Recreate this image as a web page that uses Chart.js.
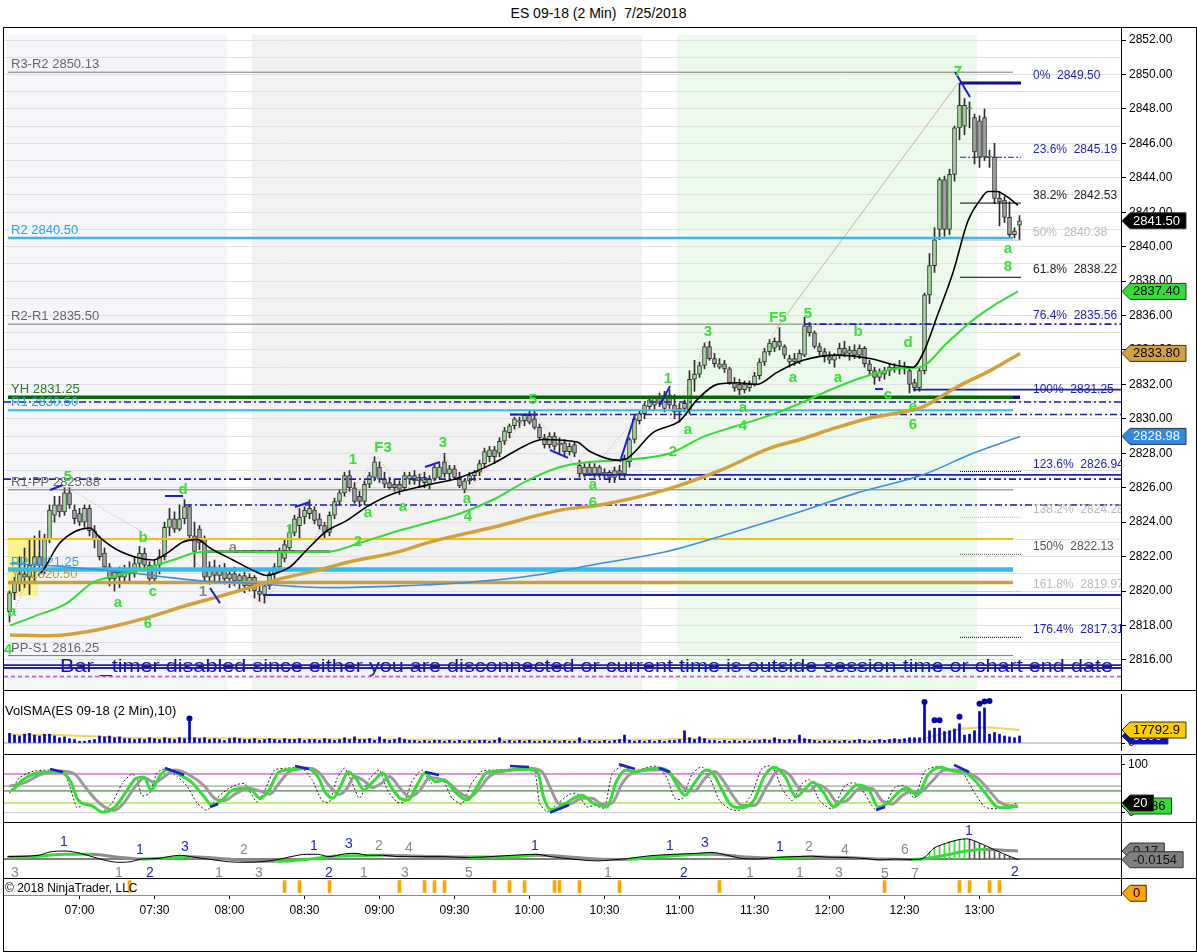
<!DOCTYPE html>
<html>
<head>
<meta charset="utf-8">
<title>ES 09-18 (2 Min) 7/25/2018</title>
<script src="https://cdn.jsdelivr.net/npm/chart.js@4.4.1/dist/chart.umd.min.js"></script>
<style>
  body { margin: 0; background: #fff; }
  #wrap { position: relative; width: 1197px; height: 952px; overflow: hidden; background: #fff;
          font-family: "Liberation Sans", Arial, sans-serif; }
  #title { position: absolute; left: 0; top: 5px; width: 1197px; text-align: center; font-size: 14px;
           white-space: pre; color: #000; }
  #wrap canvas { position: absolute; left: 0; }
  #frame { position: absolute; left: 3px; top: 27px; width: 1194px; height: 925px; border: 1px solid #000;
           box-sizing: border-box; pointer-events: none; }
</style>
</head>
<body>
<div id="wrap">
  <div id="title">ES 09-18 (2 Min)  7/25/2018</div>
  <canvas id="price" width="1197" height="663" style="top:27px"></canvas>
  <canvas id="vol" width="1197" height="64" style="top:690px"></canvas>
  <canvas id="stoch" width="1197" height="68" style="top:754px"></canvas>
  <canvas id="macd" width="1197" height="56" style="top:822px"></canvas>
  <canvas id="marks" width="1197" height="74" style="top:878px"></canvas>
  <div id="frame"></div>
</div>
<script>
// ---- data: 2 min bars from 06:32, bar number k = 1 + index (06:30 + 2k min) ----
const opens = [
  2818.8,2819.9,2820.5,2821.0,2820.8,2821.5,2822.0,2821.2,2823.0,2824.4,
  2825.0,2824.6,2825.7,2824.7,2824.5,2824.0,2824.8,2823.5,2823.0,2822.2,
  2821.4,2820.7,2821.1,2820.8,2821.2,2821.0,2821.6,2822.2,2821.5,2820.7,
  2821.5,2822.0,2823.7,2824.2,2823.6,2824.2,2824.9,2823.2,2823.6,2823.0,
  2820.8,2821.4,2820.9,2821.3,2820.7,2821.0,2820.6,2820.9,2820.3,2820.8,
  2820.0,2819.8,2820.3,2821.0,2821.4,2821.9,2822.5,2823.4,2823.8,2824.3,
  2824.5,2824.7,2824.2,2823.8,2823.4,2824.4,2825.2,2825.7,2826.7,2826.0,
  2825.5,2825.2,2826.2,2826.6,2827.2,2826.5,2826.3,2826.2,2826.2,2826.0,
  2826.5,2826.7,2826.4,2826.6,2826.2,2826.5,2826.6,2827.5,2826.8,2827.1,
  2826.6,2825.9,2826.4,2826.7,2826.9,2827.4,2827.8,2828.2,2828.0,2828.7,
  2829.2,2829.6,2829.8,2829.9,2830.2,2830.0,2829.5,2828.9,2828.5,2829.0,
  2828.5,2828.6,2828.1,2828.5,2827.3,2826.8,2827.2,2826.8,2827.2,2826.8,
  2826.9,2826.6,2827.0,2826.8,2827.5,2828.8,2829.9,2830.3,2830.7,2830.8,
  2831.2,2830.6,2831.4,2830.8,2830.4,2830.6,2830.5,2832.3,2832.6,2833.1,
  2834.2,2833.5,2833.0,2833.2,2832.9,2832.1,2832.0,2831.7,2831.8,2832.0,
  2832.5,2833.3,2833.9,2834.1,2834.5,2834.2,2833.3,2833.5,2833.3,2833.7,
  2835.4,2835.0,2834.2,2833.9,2833.6,2833.4,2833.7,2834.1,2833.8,2834.0,
  2833.7,2834.1,2833.2,2832.8,2832.4,2832.6,2832.8,2833.0,2832.9,2833.0,
  2832.8,2832.1,2831.8,2832.8,2837.2,2838.9,2841.0,2843.9,2841.0,2844.2,
  2846.9,2847.0,2848.0,2847.5,2847.3,2847.5,2845.2,2845.2,2842.8,2842.7,
  2841.7,2840.7,2841.25
];
const highs = [
  2820.0,2820.8,2822.0,2822.5,2823.0,2823.2,2823.5,2823.3,2825.0,2825.5,
  2825.5,2826.0,2826.0,2825.0,2824.8,2825.0,2825.0,2823.8,2823.2,2822.5,
  2821.6,2821.3,2821.4,2821.5,2821.7,2822.0,2822.6,2822.5,2821.7,2821.8,
  2822.4,2824.0,2824.8,2824.6,2825.0,2825.3,2825.0,2824.0,2823.8,2823.2,
  2821.7,2821.8,2821.5,2821.6,2821.3,2821.4,2821.0,2821.1,2821.0,2820.9,
  2820.3,2820.5,2821.2,2821.6,2822.5,2823.0,2823.8,2824.4,2824.8,2824.9,
  2825.3,2824.9,2824.5,2824.0,2824.6,2825.4,2825.9,2826.9,2827.0,2826.3,
  2825.8,2826.4,2826.9,2827.8,2827.5,2826.9,2826.6,2826.5,2826.4,2826.9,
  2826.9,2827.0,2826.8,2826.9,2826.7,2827.3,2827.4,2828.0,2827.3,2827.3,
  2826.9,2826.5,2826.9,2827.0,2827.6,2828.3,2828.4,2828.4,2828.9,2829.5,
  2829.7,2830.1,2830.1,2830.3,2830.5,2830.5,2829.7,2829.1,2829.2,2829.2,
  2828.9,2828.8,2828.6,2828.7,2827.6,2827.4,2827.4,2827.4,2827.3,2827.1,
  2827.0,2827.2,2827.3,2827.9,2828.9,2830.1,2830.5,2830.9,2831.3,2831.3,
  2831.5,2831.6,2831.7,2831.4,2830.9,2831.1,2832.8,2833.4,2833.3,2834.4,
  2834.5,2833.8,2833.5,2833.4,2833.0,2832.4,2832.3,2832.2,2832.2,2832.7,
  2833.5,2834.1,2834.6,2834.7,2835.3,2834.3,2833.7,2833.8,2834.0,2835.9,
  2835.6,2835.1,2834.4,2834.1,2833.9,2833.8,2834.4,2834.5,2834.2,2834.3,
  2834.3,2834.2,2833.4,2833.0,2832.9,2833.0,2833.2,2833.2,2833.4,2833.3,
  2833.0,2832.3,2833.0,2837.3,2839.6,2841.1,2844.0,2844.1,2844.5,2847.0,
  2849.5,2848.6,2848.4,2847.7,2847.6,2848.0,2845.6,2846.0,2843.2,2842.9,
  2842.6,2841.1,2841.8
];
const lows = [
  2818.2,2819.5,2820.0,2820.2,2819.8,2820.5,2821.2,2821.0,2822.8,2824.0,
  2824.3,2824.4,2824.8,2823.9,2823.8,2823.7,2823.2,2822.5,2821.8,2821.2,
  2820.3,2820.0,2820.2,2820.5,2820.6,2820.8,2821.3,2821.2,2820.4,2820.5,
  2821.0,2821.8,2823.2,2823.4,2823.5,2823.9,2823.0,2821.2,2822.4,2820.5,
  2820.4,2820.6,2820.5,2820.4,2820.2,2820.3,2820.1,2819.9,2820.0,2819.6,
  2819.4,2819.3,2820.1,2820.6,2821.2,2821.7,2822.3,2823.2,2823.0,2823.9,
  2824.2,2823.9,2823.6,2823.1,2823.2,2824.2,2825.0,2825.5,2825.8,2825.1,
  2824.9,2825.0,2826.0,2826.4,2826.3,2826.0,2825.9,2825.8,2825.6,2825.9,
  2826.2,2826.2,2826.1,2826.0,2825.9,2826.4,2826.5,2826.6,2826.4,2826.5,
  2826.0,2825.7,2826.2,2826.4,2826.7,2827.2,2827.5,2827.4,2827.8,2828.5,
  2828.9,2829.4,2829.5,2829.6,2829.7,2829.4,2828.8,2828.3,2828.3,2828.2,
  2828.0,2827.8,2827.9,2827.8,2826.6,2826.6,2826.7,2826.6,2826.6,2826.5,
  2826.3,2826.3,2826.5,2826.6,2827.2,2828.6,2829.7,2830.0,2830.5,2830.5,
  2830.7,2830.4,2830.6,2830.0,2829.8,2830.4,2830.3,2831.6,2832.4,2832.9,
  2833.4,2833.0,2832.9,2832.7,2832.0,2831.6,2831.4,2831.5,2831.6,2831.9,
  2832.3,2833.1,2833.7,2833.9,2834.0,2833.5,2833.0,2833.1,2833.2,2833.6,
  2834.8,2834.1,2833.7,2833.3,2833.2,2833.0,2833.5,2833.6,2833.4,2833.5,
  2833.5,2833.0,2832.6,2832.0,2832.2,2832.3,2832.5,2832.7,2832.6,2832.6,
  2831.5,2831.6,2831.6,2832.6,2836.7,2838.5,2840.4,2840.6,2840.7,2843.8,
  2846.2,2846.5,2846.9,2844.8,2844.6,2845.0,2844.6,2842.5,2841.2,2841.4,
  2840.5,2840.5,2840.4
];
const closes = [
  2819.9,2820.5,2821.0,2820.8,2821.5,2822.0,2821.5,2823.0,2824.7,2825.0,
  2824.6,2825.7,2825.0,2824.2,2824.0,2824.8,2823.5,2823.0,2822.0,2821.4,
  2820.7,2821.1,2820.8,2821.2,2821.0,2821.6,2822.2,2821.5,2820.7,2821.5,
  2822.0,2823.7,2824.2,2823.6,2824.2,2824.9,2823.2,2822.3,2822.8,2820.8,
  2821.4,2820.9,2821.3,2820.7,2821.0,2820.6,2820.9,2820.3,2820.8,2820.0,
  2819.8,2820.3,2821.0,2821.4,2822.3,2822.7,2823.4,2824.2,2824.3,2824.7,
  2824.8,2824.1,2823.8,2823.4,2824.4,2825.2,2825.7,2826.7,2826.0,2825.2,
  2825.2,2826.2,2826.7,2827.5,2826.5,2826.2,2826.0,2826.0,2825.9,2826.7,
  2826.7,2826.4,2826.6,2826.3,2826.5,2827.2,2827.2,2826.8,2827.1,2826.6,
  2826.1,2826.4,2826.7,2826.9,2827.4,2828.1,2828.2,2827.8,2828.7,2829.3,
  2829.6,2830.0,2829.9,2830.2,2829.8,2829.5,2828.9,2828.5,2829.0,2828.4,
  2828.6,2828.1,2828.4,2828.0,2826.8,2827.2,2826.8,2827.2,2826.8,2826.9,
  2826.6,2827.0,2826.8,2827.7,2828.8,2830.0,2830.3,2830.8,2831.1,2831.2,
  2830.9,2831.4,2830.8,2830.4,2830.6,2830.9,2832.3,2832.6,2833.1,2834.2,
  2833.5,2833.2,2833.2,2832.9,2832.1,2831.8,2831.7,2832.0,2832.0,2832.5,
  2833.3,2833.9,2834.4,2834.5,2834.2,2833.7,2833.5,2833.3,2833.8,2835.4,
  2835.0,2834.2,2833.9,2833.6,2833.4,2833.7,2834.1,2833.8,2834.0,2833.7,
  2834.1,2833.2,2832.8,2832.4,2832.7,2832.8,2833.0,2832.9,2833.0,2832.9,
  2832.0,2831.8,2832.8,2837.2,2838.9,2840.4,2843.9,2841.0,2844.2,2846.9,
  2848.2,2848.2,2848.0,2845.5,2845.2,2845.2,2845.2,2842.8,2842.6,2841.7,
  2840.7,2840.9,2841.5
];
const volumes = [
  13200,10800,9600,12000,13200,10800,9600,12000,12000,9600,7200,8400,6000,4800,
  2400,2400,3600,4800,
  9600,8400,9600,7200,8400,6000,6000,4800,6000,4800,7200,6000,4800,7200,6000,4800,7200,6000,
  31200,
  7200,6000,7200,4800,6000,4800,3600,6000,7200,6000,4800,4800,6000,3600,4800,6000,4800,3600,6000,4800,4800,6000,3600,4800,
  4800,3600,6000,4800,3600,4800,7200,4800,8400,4800,4800,6000,3600,8400,4800,3600,4800,7200,4800,3600,
  3600,2400,3600,2400,3600,3600,2400,3600,2400,3600,2400,3600,2400,3600,3600,2400,3600,
  7200,
  2400,3600,2400,3600,2400,3600,2400,2400,3600,2400,3600,2400,3600,2400,2400,
  7200,
  2400,3600,2400,2400,3600,2400,3600,4800,
  10800,
  3600,2400,3600,2400,3600,2400,3600,2400,3600,3600,4800,
  16800,
  7200,4800,8400,6000,3600,
  3600,2400,3600,2400,3600,2400,3600,2400,3600,3600,4800,3600,
  7200,
  4800,3600,4800,3600,
  10800,
  6000,4800,3600,2400,3600,2400,3600,2400,3600,2400,3600,4800,3600,2400,3600,4800,3600,4800,6000,4800,6000,7200,7200,
  7200,
  52800,
  16800,20400,20400,15600,16800,19200,26400,10800,12000,16800,43200,48000,12000,14400,12000,9600,8400,7200,9600
];

// moving averages as [bar, value]
const blackMA = [[6.7,2820.9],[7.7,2821.2],[11.1,2822.8],[17.1,2823.66],[19.1,2823.1],[22.5,2822.4],[27.1,2821.9],
  [29.7,2821.8],[32.5,2822.2],[35.7,2822.85],[38.5,2823.0],[41.1,2822.5],[45.7,2821.8],[49.7,2821.2],[52.5,2820.9],
  [54.5,2821.05],[57.1,2821.4],[60.5,2822.4],[64.5,2823.5],[68.5,2824.1],[72.5,2824.9],[77.7,2825.65],[84.5,2826.15],
  [91.1,2826.6],[97.7,2827.4],[104.5,2828.5],[107.7,2828.8],[114.5,2828.65],[117.1,2828.1],[122.5,2827.6],[124.5,2827.7],
  [129.7,2829.2],[135.1,2829.9],[138.5,2831.1],[142.5,2832.0],[146.5,2832.1],[150.5,2832.0],[154.5,2832.7],[159.7,2833.4],
  [166.5,2833.7],[173.1,2833.5],[178.5,2833.1],[181.7,2833.0],[183.7,2833.8],[186.7,2836.1],[189.7,2838.5],[192.7,2841.5],
  [195.1,2842.7],[196.7,2843.2],[198.5,2843.2],[200.5,2842.9],[202.7,2842.4]];
const greenMA = [[1.1,2818.0],[5.7,2818.5],[12.5,2819.3],[17.7,2820.5],[22.5,2820.9],[29.1,2821.4],[33.7,2821.8],
  [37.7,2822.2],[40.5,2822.3],[45.7,2822.3],[52.5,2822.27],[65.1,2822.3],[71.1,2822.8],[77.7,2823.4],[84.5,2823.95],
  [91.1,2824.5],[97.7,2825.3],[104.5,2826.4],[111.1,2827.2],[117.1,2827.5],[123.1,2827.6],[133.1,2828.0],[139.7,2828.95],
  [146.5,2829.6],[153.1,2830.2],[159.7,2830.97],[166.5,2831.85],[173.1,2832.55],[179.7,2832.95],[183.1,2833.0],
  [188.5,2834.4],[193.1,2835.6],[198.5,2836.7],[202.7,2837.4]];
const goldMA = [[1.1,2817.45],[9.1,2817.4],[15.7,2817.6],[22.5,2818.0],[29.1,2818.5],[35.7,2819.1],[42.5,2819.65],
  [49.1,2820.2],[55.7,2820.75],[62.5,2821.2],[69.1,2821.7],[79.1,2822.3],[84.5,2822.8],[97.7,2823.7],[111.1,2824.7],
  [119.1,2825.0],[132.5,2825.9],[143.1,2827.0],[153.1,2828.3],[159.1,2828.8],[166.5,2829.5],[173.1,2830.05],
  [179.7,2830.4],[183.7,2830.7],[190.5,2831.85],[197.1,2832.8],[203.1,2833.8]];
const blueMA = [[1.1,2821.6],[12.5,2821.4],[25.7,2821.05],[32.5,2820.8],[39.1,2820.6],[49.1,2820.45],[59.1,2820.25],
  [65.7,2820.2],[79.1,2820.3],[92.5,2820.5],[105.7,2820.9],[119.1,2821.6],[132.5,2822.3],[145.7,2823.4],[159.1,2824.6],
  [170.5,2825.7],[183.7,2826.75],[193.7,2828.0],[203.1,2828.98]];

// pivot levels
const pivotNames  = ['R3-R2', 'R2', 'R2-R1', 'YH', 'R1', 'R1-PP', 'PP', 'YL', 'PP-S1'];
const pivotValues = [2850.13, 2840.50, 2835.50, 2831.25, 2830.50, 2825.88, 2821.25, 2820.50, 2816.25];
const openLevel = 2823.02;
const dashLevels = [2830.98, 2830.25, 2826.50, 2825.00, 2835.50];
const dashFrom   = [-0.1, 101.1, -0.1, 36.1, 160.0];
const solidLevels = [2831.70, 2826.75, 2819.77, 2815.70, 2815.53];
const solidFrom   = [181.7, 115.7, 51.7, -0.1, -0.1];
const purpleLevel = 2815.03;
// fibonacci retracement of the 2831.25 -> 2849.50 leg
const fibNames  = ['0%', '23.6%', '38.2%', '50%', '61.8%', '76.4%', '100%', '123.6%', '138.2%', '150%', '161.8%', '176.4%'];
const fibValues = [2849.50, 2845.19, 2842.53, 2840.38, 2838.22, 2835.56, 2831.25, 2826.94, 2824.28, 2822.13, 2819.97, 2817.31];

// sessions shading [from bar, to bar]
const zoneFrom = [0.5, 49.5, 134.5];
const zoneTo   = [44.5, 127.5, 194.5];
const openBox = [0.7, 6.7, 2819.7, 2823.1];

// swing marks, wave counts
const swingTicks = [[9.1,2825.87,11.7,2826.16],[32.1,2825.52,35.7,2825.52],[41.1,2820.18,43.1,2819.3],
  [58.1,2824.88,61.1,2825.17],[84.1,2827.2,87.1,2827.49],[109.1,2828.19,112.7,2827.73],[123.1,2827.5,126.1,2830.22],
  [131.1,2830.8,133.1,2831.9],[174.1,2831.73,175.7,2831.73],[190.1,2850.14,193.1,2848.69],[101.1,2830.25,106.7,2830.25]];
const zigzag = [[1.1,2818.3],[12.5,2826.0],[51.7,2819.3],[74.7,2827.8],[79.7,2825.7],[87.7,2828.0],[92.5,2825.7],
  [105.5,2830.5],[116,2826.6],[131,2831.6],[133.5,2829.8],[140.3,2834.5],[147,2831.4],[154.5,2835.3]];
const fibLeg = [[154.5,2835.3],[190.7,2849.5]];
const grayChannel = [[40.5,2822.3],[65.1,2822.3]];
const greenWaves = [[1.5,2818.78,'a'],[0.7,2816.58,'4'],[12.7,2826.62,'5'],[22.7,2819.3,'a'],[27.7,2823.08,'b'],
  [29.7,2819.94,'c'],[28.7,2818.09,'6'],[35.7,2825.87,'d'],[57.1,2823.54,'1'],[69.7,2827.6,'1'],[72.7,2824.53,'a'],
  [70.7,2822.85,'2'],[75.7,2828.3,'F3'],[79.7,2824.88,'a'],[87.7,2828.6,'3'],[92.5,2825.35,'a'],[92.7,2824.3,'4'],
  [105.7,2831.1,'5'],[117.7,2826.16,'a'],[117.7,2825.11,'6'],[132.7,2832.31,'1'],[133.7,2828.07,'2'],[136.7,2829.35,'a'],
  [140.7,2835.04,'3'],[147.7,2830.63,'a'],[147.7,2829.58,'4'],[154.7,2835.86,'F5'],[157.7,2832.37,'a'],[160.7,2836.09,'5'],
  [170.7,2835.04,'b'],[166.7,2832.37,'a'],[180.7,2834.4,'d'],[176.7,2831.38,'c'],[181.7,2830.69,'e'],[181.7,2829.64,'6'],
  [190.7,2850.14,'7'],[200.7,2839.86,'a'],[200.7,2838.82,'8']];
const grayWaves = [[39.7,2819.94,'1'],[45.7,2822.5,'a']];
const timerNote = 'Bar _timer disabled since either you are disconnected or current time is outside session time or chart end date';

// volume panel
const volSMA = [[1,11300],[10,11000],[20,8300],[30,6300],[40,6500],[50,5900],[60,5300],[70,5300],[80,4700],[90,4200],
  [100,4200],[110,3900],[120,4200],[130,4500],[137,5900],[145,5100],[155,4500],[165,4200],[175,3600],[183,4200],
  [185,8300],[188,13000],[191,19000],[194,20800],[197,21300],[200,19600],[203,17792.9]];
const volDots = [[37,33600],[184,56400],[186,31200],[187,31200],[191,36000],[195,54000],[196,57000],[197,57600]];

// stochastics panel
const stochLevels = [80, 55, 45, 20, 0];
const stochGreen = [[1.7,47],[3.7,68],[5.9,80],[9.1,84],[11.3,83],[13.3,63],[14.5,30],[15.5,20],[17.5,14],[19.7,1],
  [22.1,12],[24.3,43],[26.3,71],[27.9,74],[29.3,47],[31.3,80],[32.7,89],[35.1,78],[37.3,64],[39.7,36],[41.5,16],
  [43.5,26],[45.7,47],[48.9,51],[51.1,30],[52.7,43],[54.9,84],[57.3,89],[60.3,92],[62.7,74],[64.1,43],[65.7,30],
  [67.3,57],[68.7,84],[70.3,71],[71.9,47],[73.7,64],[75.7,82],[77.1,57],[79.1,30],[80.7,26],[82.5,57],[84.1,82],
  [86.3,64],[87.9,68],[90.1,43],[92.5,26],[94.7,57],[96.3,82],[98.7,86],[101.7,88],[104.7,90],[106.7,82],[107.7,36],
  [109.3,6],[111.7,16],[113.9,30],[115.5,36],[117.7,20],[120.5,12],[122.3,63],[124.3,88],[126.1,84],[128.5,90],
  [131.1,92],[133.1,82],[134.5,57],[136.1,36],[138.1,63],[140.3,88],[141.9,78],[143.3,51],[145.3,16],[147.5,10],
  [149.9,26],[152.1,78],[154.1,94],[156.3,71],[158.3,33],[160.3,51],[161.7,63],[163.7,43],[165.9,12],[168.3,36],
  [170.5,57],[172.9,47],[174.7,12],[176.7,20],[178.9,43],[180.5,51],[182.5,36],[184.7,78],[187.1,94],[189.7,86],
  [192.3,82],[194.3,64],[196.5,36],[198.5,12],[200.3,10],[202.7,13.86]];
const stochGray = [[1,55],[4,62],[7,78],[11,86],[14,80],[16,55],[18,30],[20,12],[22,5],[24,22],[26,52],[28,72],[30,62],
  [32,75],[34,88],[37,78],[40,55],[42,30],[44,25],[46,38],[49,50],[51,45],[53,38],[55,62],[57,85],[61,92],[63,82],[65,55],
  [67,38],[68.5,50],[70,75],[72,65],[73.5,52],[75.5,62],[77,75],[79,52],[81,33],[83,45],[85,72],[87,70],[89,60],[91,42],
  [93,32],[95,50],[97,75],[100,86],[105,92],[107.5,85],[109,55],[111,18],[113,18],[115.5,30],[117.5,30],[119.5,18],
  [121.5,20],[123.5,60],[125.5,82],[129,88],[131.5,88],[134,72],[136,50],[138,45],[140,70],[142,85],[143.5,70],[145.5,38],
  [147.5,15],[150,15],[152.5,55],[155,88],[157,78],[159,50],[161,45],[162.5,58],[164.5,48],[166.5,22],[168.5,25],[171,50],
  [173.5,50],[175.5,25],[177.5,18],[179.5,35],[181.5,45],[183,42],[185.5,65],[188,88],[190.5,88],[193,82],[195,68],
  [197,45],[199,22],[201,14],[202.7,13]];
const stochFast = [[1,40],[3,72],[5.5,85],[9,88],[12,80],[13.5,40],[14.5,10],[16,18],[18,12],[19.5,2],[21.5,20],[23.5,60],
  [25.5,80],[26.5,70],[27.5,35],[29,40],[30.5,82],[32,90],[34.5,75],[36.5,55],[38.5,20],[40.5,5],[42.5,30],[44.5,48],
  [46.5,58],[48,60],[50.5,22],[52,45],[54,88],[56.5,92],[59.5,92],[61.5,68],[63.5,25],[65,22],[66.5,70],[68,92],[69.5,62],
  [71,30],[73,70],[75,88],[76.5,48],[78.5,22],[80,22],[81.5,65],[83.5,88],[85.5,60],[87.5,70],[89.5,30],[91.5,18],
  [93.5,62],[95.5,86],[98,88],[101,90],[104,92],[106,88],[107,20],[108.5,2],[110.5,18],[113,38],[114.5,40],[116.5,12],
  [118,15],[120,10],[121.5,80],[123.5,96],[126,85],[128,92],[130.5,96],[132.5,72],[134,30],[135.5,28],[137.5,80],
  [139.5,95],[141.5,62],[143,25],[145,8],[147,5],[149.5,40],[151.5,92],[153.5,96],[155.5,50],[157.5,25],[159.5,60],
  [161,68],[163,25],[165.5,8],[168,55],[170,62],[172,40],[174,8],[176,15],[178,52],[180,56],[182,30],[184,85],[186.5,96],
  [189,90],[191.5,85],[193.5,50],[196,12],[198,8],[200,12],[202.7,20]];
const stochTicks = [[9.1,90.3,11.7,84.1],[32.1,92.4,35.9,77.9],[41.1,11.8,42.7,18],[58.1,96.5,60.9,90.3],
  [84.1,84.1,86.9,77.9],[101.1,96.5,104.9,94.4],[109.1,0,112.9,15.9],[122.9,100,126.1,90.3],[130.9,92.4,133.1,84.1],
  [174.3,5.6,176.1,11.8],[189.9,98.6,192.9,84.1]];

// MACD panel
const macdLine = [[0.6,0.05],[6.8,0.08],[9.1,0.15],[12.1,0.17],[15.2,0.12],[17.5,0.05],[19.8,-0.02],[22.8,-0.07],
  [25.1,-0.06],[27.4,0],[30.5,0.01],[32.8,0.05],[35.1,0.08],[37.4,0.05],[39.7,0.01],[42.0,-0.02],[45.0,-0.06],
  [48.1,-0.07],[51.1,-0.06],[54.2,-0.02],[57.3,0.05],[60.3,0.1],[62.6,0.1],[64.9,0.05],[68.0,0.11],[70.3,0.12],
  [72.6,0.08],[75.6,0.08],[78.7,0.05],[83.3,0.05],[87.9,0.05],[92.5,0.03],[97.1,0.05],[101.7,0.08],[106.3,0.1],
  [109.3,0.05],[112.4,0.01],[115.4,-0.02],[118.5,-0.04],[121.6,-0.02],[124.6,0.01],[129.2,0.07],[133.8,0.1],
  [138.4,0.12],[141.5,0.14],[144.5,0.08],[147.6,0.01],[150.6,0],[153.7,0.03],[158.3,0.05],[161.4,0.06],[164.4,0.04],
  [168.3,0.03],[172.1,0.01],[175.1,-0.02],[178.2,0],[181.3,-0.01],[183.6,0.01],[185.9,0.23],[188.2,0.33],[190.4,0.4],
  [192.4,0.43],[194.3,0.37],[197.3,0.23],[199.6,0.12],[202.7,-0.0154]];
const macdSignal = [[0.6,0.04],[6.8,0.06],[12.1,0.1],[17.5,0.1],[22.8,0.04],[27.4,0.0],[32.8,0.02],[37.4,0.05],
  [42.0,0.02],[48.1,-0.03],[54.2,-0.05],[60.3,-0.01],[64.9,0.05],[70.3,0.07],[75.6,0.08],[83.3,0.06],[92.5,0.04],
  [101.7,0.05],[106.3,0.08],[112.4,0.05],[118.5,0.0],[124.6,-0.01],[129.2,0.03],[133.8,0.07],[141.5,0.1],[147.6,0.05],
  [153.7,0.02],[161.4,0.05],[168.3,0.03],[175.1,0.0],[181.3,-0.01],[183.6,0.0],[188.2,0.08],[192.4,0.17],[196.2,0.2],
  [202.7,0.17]];
const macdHistBars = [184,185,186,187,188,189,190,191,192,193,194,195,196,197,198,199,200,201,202,203];
const macdHist = [0.05,0.15,0.24,0.29,0.33,0.37,0.40,0.42,0.43,0.42,0.38,0.33,0.28,0.23,0.17,0.12,0.08,0.05,0.02,-0.0154];
const macdBlueCounts = [[11.9,0.36,'1'],[27.1,0.19,'1'],[29.1,-0.31,'2'],[36.1,0.26,'3'],[61.9,0.28,'1'],[64.9,-0.31,'2'],
  [68.9,0.32,'3'],[106.1,0.28,'1'],[133.1,0.28,'1'],[140.1,0.34,'3'],[135.9,-0.31,'2'],[155.1,0.26,'1'],[192.9,0.6,'1'],
  [202.1,-0.28,'2']];
const macdGrayCounts = [[2.1,-0.31,'3'],[22.9,-0.31,'1'],[42.9,-0.31,'1'],[47.9,0.19,'2'],[50.9,-0.31,'3'],[71.9,-0.31,'1'],
  [74.9,0.28,'2'],[80.1,-0.31,'3'],[80.9,0.23,'4'],[92.9,-0.31,'5'],[120.7,-0.31,'1'],[149.1,-0.31,'1'],[159.1,-0.31,'1'],
  [160.9,0.26,'2'],[166.9,-0.31,'3'],[168.1,0.19,'4'],[176.1,-0.32,'5'],[180.1,0.19,'6'],[182.1,-0.32,'7']];

// alert marks and time axis
const markBars = [25,56,59,65,79,84,86,88,98,101,104,110,111,115,123,143,176,191,193,197,199];
const tickBars = [15,30,45,60,75,90,105,120,135,150,165,180,195];
const timeLabels = ['07:00','07:30','08:00','08:30','09:00','09:30','10:00','10:30','11:00','11:30','12:00','12:30','13:00'];

// ---- drawing ----
const FONT = '"Liberation Sans", Arial, sans-serif';
Chart.defaults.font.family = FONT;
const X_MIN = -0.1, X_MAX = 223.3;
const NAVY = '#1e1eb4';

function fixAxis(s) { s.width = 76; s.paddingTop = 0; s.paddingBottom = 0; }

function hiddenX() {
  return { type: 'linear', min: X_MIN, max: X_MAX, offset: false, display: false, grid: { display: false, offset: false } };
}

function line(points, color, width, extra) {
  return Object.assign({
    type: 'line', data: points.map(p => ({ x: p[0], y: p[1] })), borderColor: color, borderWidth: width,
    pointRadius: 0, fill: false, tension: 0, order: 10
  }, extra || {});
}
function hline(v, from, to, color, width, extra) {
  return line([[from, v], [to, v]], color, width, extra);
}

function drawTag(ctx, y, text, fill, ink) {
  ctx.save();
  ctx.font = '13px ' + FONT;
  const w = ctx.measureText(text).width + 9;
  const x0 = 1122, h = 16;
  ctx.beginPath();
  ctx.moveTo(x0, y);
  ctx.lineTo(x0 + 8, y - h / 2);
  ctx.lineTo(x0 + 8 + w, y - h / 2);
  ctx.lineTo(x0 + 8 + w, y + h / 2);
  ctx.lineTo(x0 + 8, y + h / 2);
  ctx.closePath();
  ctx.fillStyle = fill;
  ctx.fill();
  ctx.strokeStyle = '#333';
  ctx.lineWidth = 1;
  ctx.stroke();
  ctx.fillStyle = ink;
  ctx.textBaseline = 'middle';
  ctx.textAlign = 'left';
  ctx.fillText(text, x0 + 11, y + 0.5);
  ctx.restore();
}

function panelTop(chart) {
  const ctx = chart.ctx;
  ctx.save();
  ctx.fillStyle = '#000';
  ctx.fillRect(3, 0, 1194, 1);
  ctx.restore();
}

const baseOptions = {
  responsive: false, animation: false, events: [],
  layout: { padding: { left: 4, right: 0, top: 0, bottom: 0 } },
  plugins: { legend: { display: false }, tooltip: { enabled: false } }
};

// price panel
const pivotColors = ['#777', '#33bbee', '#777', '#006a00', '#33bbee', '#777', '#33bbee', '#c9a040', '#777'];
const pivotWidths = [1, 2.5, 1, 3.5, 2, 1, 4.5, 3.5, 1];
const pivotInk = ['#666', '#2aa6dd', '#666', '#2c7a2c', '#2aa6dd', '#666', '#2aa6dd', '#c29540', '#666'];
const fibInk = [NAVY, NAVY, '#222', '#bbb', '#222', NAVY, NAVY, NAVY, '#bbb', '#555', '#bbb', NAVY];
const fibLine = [
  { c: '#10107a', w: 3, d: [] }, { c: NAVY, w: 1, d: [6, 2, 2, 2] }, { c: '#000', w: 1, d: [] }, { c: '#bbb', w: 1, d: [] },
  { c: '#000', w: 1, d: [] }, null, null, { c: '#000', w: 1, d: [1, 1] }, { c: '#bbb', w: 1, d: [1, 1] },
  { c: '#555', w: 1, d: [1, 1] }, { c: '#bbb', w: 1, d: [1, 1] }, { c: '#000', w: 1, d: [1, 1] }];

const priceSets = [];
priceSets.push({
  type: 'bar', data: opens.map((o, j) => ({ x: j + 1, y: [o, closes[j]] })), grouped: false, barThickness: 4,
  minBarLength: 1, borderWidth: 1, borderColor: '#2b2b2b', borderSkipped: false, order: 30,
  backgroundColor: c => (c.raw && c.raw.y[1] >= c.raw.y[0] ? '#9fd99a' : '#a4a4a4')
});
priceSets.push({
  type: 'bar', data: highs.map((h, j) => ({ x: j + 1, y: [lows[j], h] })), grouped: false, barThickness: 1,
  backgroundColor: '#2b2b2b', borderWidth: 0, order: 31
});
pivotValues.forEach((v, i) => priceSets.push(hline(v, 0.7, 201.7, pivotColors[i], pivotWidths[i], { order: 25 })));
priceSets.push(hline(pivotValues[3], 201.7, 203.1, '#10107a', 3.5, { order: 25 }));
priceSets.push(hline(openLevel, 0.7, 201.7, '#f5c400', 2, { order: 25 }));
dashLevels.forEach((v, i) => priceSets.push(hline(v, dashFrom[i], X_MAX, NAVY, 1.6, { borderDash: [7, 3, 2, 3], order: 24 })));
solidLevels.forEach((v, i) => priceSets.push(hline(v, solidFrom[i], X_MAX, NAVY, 1.8, { order: 24 })));
priceSets.push(hline(purpleLevel, X_MIN, X_MAX, '#b060c8', 1.5, { borderDash: [4, 3], order: 24 }));
fibValues.forEach((v, i) => {
  const s = fibLine[i];
  if (s) priceSets.push(hline(v, 191.1, 203.3, s.c, s.w, { borderDash: s.d, order: 24 }));
});
priceSets.push(line(zigzag, 'rgba(225,110,110,0.75)', 1, { borderDash: [1, 2], order: 26 }));
priceSets.push(line(fibLeg, 'rgba(205,165,150,0.9)', 1, { order: 26 }));
priceSets.push(line(grayChannel, '#7d7d7d', 3, { order: 22 }));
priceSets.push(line([[46, 2822.3], [58, 2822.3]], '#111', 2, { borderDash: [5, 3], order: 21 }));
priceSets.push(line(blueMA, '#3a8ee6', 1.6, { tension: 0.4, cubicInterpolationMode: 'monotone', order: 20 }));
priceSets.push(line(goldMA, '#d4a03c', 3.5, { tension: 0.4, cubicInterpolationMode: 'monotone', order: 19 }));
priceSets.push(line(greenMA, '#33dd33', 2, { tension: 0.4, cubicInterpolationMode: 'monotone', order: 18 }));
priceSets.push(line(blackMA, '#000', 1.6, { tension: 0.4, cubicInterpolationMode: 'monotone', order: 17 }));
swingTicks.forEach(t => priceSets.push(line([[t[0], t[1]], [t[2], t[3]]], '#1c1cd0', 2, { order: 5 })));

const priceExtras = {
  id: 'priceExtras',
  beforeDraw(chart) {
    const { ctx, chartArea: a, scales: { x, y } } = chart;
    const top = y.getPixelForValue(2852.29);
    const fills = ['#f5f6fa', '#f2f2f2', '#ebfaeb'];
    ctx.save();
    zoneFrom.forEach((f, i) => {
      const x1 = x.getPixelForValue(f), x2 = x.getPixelForValue(zoneTo[i]);
      ctx.fillStyle = fills[i];
      ctx.fillRect(x1, top, x2 - x1, a.bottom - top);
    });
    ctx.restore();
  },
  beforeDatasetsDraw(chart) {
    const { ctx, scales: { x, y } } = chart;
    ctx.save();
    const bx1 = x.getPixelForValue(openBox[0]), bx2 = x.getPixelForValue(openBox[1]);
    const by1 = y.getPixelForValue(openBox[3]), by2 = y.getPixelForValue(openBox[2]);
    ctx.fillStyle = 'rgba(255,238,60,0.55)';
    ctx.fillRect(bx1, by1, bx2 - bx1, by2 - by1);
    ctx.font = '19px ' + FONT;
    const w = ctx.measureText(timerNote).width;
    const tx1 = x.getPixelForValue(11.1), tx2 = x.getPixelForValue(221.7);
    ctx.translate(tx1, y.getPixelForValue(2815.59));
    ctx.scale((tx2 - tx1) / w, 1);
    ctx.fillStyle = '#14148c';
    ctx.textBaseline = 'middle';
    ctx.fillText(timerNote, 0, 0);
    ctx.restore();
  },
  afterDatasetsDraw(chart) {
    const { ctx, chartArea: a, scales: { x, y } } = chart;
    ctx.save();
    ctx.font = '13px ' + FONT;
    ctx.textAlign = 'left';
    ctx.textBaseline = 'alphabetic';
    pivotNames.forEach((n, i) => {
      ctx.fillStyle = pivotInk[i];
      ctx.fillText(n + ' ' + pivotValues[i].toFixed(2), 11, y.getPixelForValue(pivotValues[i]) - 4);
    });
    ctx.beginPath();
    ctx.rect(a.left, a.top, a.right - a.left, a.bottom - a.top);
    ctx.clip();
    ctx.font = '12px ' + FONT;
    fibNames.forEach((n, i) => {
      ctx.fillStyle = fibInk[i];
      ctx.fillText(n + '  ' + fibValues[i].toFixed(2), x.getPixelForValue(205.7), y.getPixelForValue(fibValues[i]) - 4);
    });
    ctx.font = 'bold 15px ' + FONT;
    ctx.textAlign = 'center';
    ctx.textBaseline = 'middle';
    ctx.fillStyle = '#3ade3a';
    greenWaves.forEach(w => ctx.fillText(w[2], x.getPixelForValue(w[0]), y.getPixelForValue(w[1])));
    ctx.fillStyle = '#8a8a8a';
    grayWaves.forEach(w => ctx.fillText(w[2], x.getPixelForValue(w[0]), y.getPixelForValue(w[1])));
    ctx.restore();
  },
  afterDraw(chart) {
    const y = chart.scales.y, ctx = chart.ctx;
    const last = a => a[a.length - 1][1];
    drawTag(ctx, y.getPixelForValue(closes[closes.length - 1]), closes[closes.length - 1].toFixed(2), '#000', '#fff');
    drawTag(ctx, y.getPixelForValue(last(greenMA)), last(greenMA).toFixed(2), '#33dd33', '#000');
    drawTag(ctx, y.getPixelForValue(last(goldMA)), last(goldMA).toFixed(2), '#d4a03c', '#000');
    drawTag(ctx, y.getPixelForValue(last(blueMA)), last(blueMA).toFixed(2), '#2e8ae6', '#fff');
  }
};

new Chart(document.getElementById('price'), {
  type: 'bar',
  data: { datasets: priceSets },
  options: Object.assign({}, baseOptions, {
    scales: {
      x: hiddenX(),
      y: {
        type: 'linear', position: 'right', min: 2814.253, max: 2852.755,
        afterFit: fixAxis,
        afterBuildTicks: s => { const t = []; for (let v = 2815; v <= 2852; v++) t.push({ value: v }); s.ticks = t; },
        ticks: {
          autoSkip: false, padding: 3, color: '#000', font: { size: 12 },
          callback: v => (Math.round(v) % 2 === 0 ? Number(v).toFixed(2) : '')
        },
        grid: {
          color: '#e2e2e2', lineWidth: 1, drawTicks: true, tickLength: 5,
          tickColor: c => (c.tick && Math.round(c.tick.value) % 2 === 0 ? '#000' : 'rgba(0,0,0,0)')
        },
        border: { display: true, color: '#000', width: 1 }
      }
    }
  }),
  plugins: [priceExtras]
});

// volume panel
const volSets = [
  hline(0, X_MIN, X_MAX, '#a0a0a0', 1, { order: 40 }),
  { type: 'bar', data: volumes.map((v, j) => ({ x: j + 1, y: v })), grouped: false, barThickness: 2,
    backgroundColor: '#0000cc', borderWidth: 0, order: 20 },
  line(volSMA, 'rgba(240,205,70,0.85)', 2, { tension: 0.4, cubicInterpolationMode: 'monotone', order: 25 }),
  line(volDots, '#0000b0', 0, { showLine: false, pointRadius: 3, pointBackgroundColor: '#0000b0', pointBorderWidth: 0, order: 5 })
];
new Chart(document.getElementById('vol'), {
  type: 'bar',
  data: { datasets: volSets },
  options: Object.assign({}, baseOptions, {
    scales: {
      x: hiddenX(),
      y: {
        type: 'linear', position: 'right', min: -9600, max: 67200, afterFit: fixAxis,
        afterBuildTicks: s => { s.ticks = [{ value: 0 }]; },
        ticks: { padding: 3, color: '#000', font: { size: 12 } },
        grid: { display: true, drawOnChartArea: false, drawTicks: true, tickLength: 4, color: '#000' },
        border: { display: true, color: '#000' }
      }
    }
  }),
  plugins: [{
    id: 'volExtras',
    afterDatasetsDraw(chart) {
      const ctx = chart.ctx;
      ctx.save();
      ctx.font = '13px ' + FONT;
      ctx.fillStyle = '#000';
      ctx.textBaseline = 'middle';
      ctx.fillText('VolSMA(ES 09-18 (2 Min),10)', 5, 21);
      ctx.restore();
    },
    afterDraw(chart) {
      const y = chart.scales.y;
      const lastVol = volumes[volumes.length - 1];
      const lastSMA = volSMA[volSMA.length - 1][1];
      drawTag(chart.ctx, y.getPixelForValue(lastVol), String(lastVol), '#1010c8', '#fff');
      drawTag(chart.ctx, y.getPixelForValue(lastSMA), lastSMA.toFixed(1), '#ffcc00', '#000');
      panelTop(chart);
    }
  }]
});

// stochastics panel
const stochColors = ['#d020d0', '#8a8a8a', '#1a6e1a', '#8fd400', '#cccccc'];
const stochSets = [];
stochLevels.forEach((v, i) => stochSets.push(hline(v, X_MIN, X_MAX, stochColors[i], 1, { order: 40 })));
stochSets.push(line(stochFast, '#222', 1, { borderDash: [2, 2], tension: 0.2, order: 30 }));
stochSets.push(line(stochGray, '#9a9a9a', 3, { tension: 0.4, cubicInterpolationMode: 'monotone', order: 20 }));
stochSets.push(line(stochGreen, '#33dd33', 3, { tension: 0.4, cubicInterpolationMode: 'monotone', order: 15 }));
stochTicks.forEach(t => stochSets.push(line([[t[0], t[1]], [t[2], t[3]]], '#1c1cd0', 2.5, { order: 5 })));
new Chart(document.getElementById('stoch'), {
  type: 'line',
  data: { datasets: stochSets },
  options: Object.assign({}, baseOptions, {
    scales: {
      x: hiddenX(),
      y: {
        type: 'linear', position: 'right', min: -19.2, max: 121.3, afterFit: fixAxis,
        afterBuildTicks: s => { s.ticks = [{ value: 0 }, { value: 100 }]; },
        ticks: { padding: 3, color: '#000', font: { size: 12 } },
        grid: { display: true, drawOnChartArea: false, drawTicks: true, tickLength: 4, color: '#000' },
        border: { display: true, color: '#000' }
      }
    }
  }),
  plugins: [{
    id: 'stochExtras',
    afterDraw(chart) {
      const y = chart.scales.y;
      const g = stochGreen[stochGreen.length - 1][1], f = stochFast[stochFast.length - 1][1];
      drawTag(chart.ctx, y.getPixelForValue(g), String(g), '#33dd33', '#000');
      drawTag(chart.ctx, y.getPixelForValue(f), String(f), '#000', '#fff');
      panelTop(chart);
    }
  }]
});

// MACD panel
const macdSets = [
  hline(0, X_MIN, X_MAX, '#000', 1, { order: 40 }),
  { type: 'bar', data: macdHistBars.map((k, i) => ({ x: k, y: macdHist[i] })), grouped: false, barThickness: 1,
    borderWidth: 0, order: 30,
    backgroundColor: c => (c.dataIndex > 0 && macdHist[c.dataIndex] >= macdHist[c.dataIndex - 1] ? '#33dd33'
      : (c.dataIndex === 0 ? '#33dd33' : '#555')) },
  line(macdSignal, '#8c8c8c', 3, { tension: 0.4, cubicInterpolationMode: 'monotone', order: 20,
    segment: { borderColor: c => (c.p1.parsed.y >= c.p0.parsed.y ? '#33dd33' : '#8c8c8c') } }),
  line(macdLine, '#000', 1, { tension: 0.4, cubicInterpolationMode: 'monotone', order: 10 })
];
new Chart(document.getElementById('macd'), {
  type: 'bar',
  data: { datasets: macdSets },
  options: Object.assign({}, baseOptions, {
    scales: {
      x: hiddenX(),
      y: {
        type: 'linear', position: 'right', min: -0.404, max: 0.787, afterFit: fixAxis,
        afterBuildTicks: s => { s.ticks = []; },
        ticks: { display: false },
        grid: { display: false },
        border: { display: true, color: '#000' }
      }
    }
  }),
  plugins: [{
    id: 'macdExtras',
    afterDatasetsDraw(chart) {
      const { ctx, chartArea: a, scales: { x, y } } = chart;
      ctx.save();
      ctx.beginPath();
      ctx.rect(a.left, a.top, a.right - a.left, a.bottom - a.top);
      ctx.clip();
      ctx.font = '14px ' + FONT;
      ctx.textAlign = 'center';
      ctx.textBaseline = 'middle';
      ctx.fillStyle = '#2424c8';
      macdBlueCounts.forEach(w => ctx.fillText(w[2], x.getPixelForValue(w[0]), y.getPixelForValue(w[1])));
      ctx.fillStyle = '#8a8a8a';
      macdGrayCounts.forEach(w => ctx.fillText(w[2], x.getPixelForValue(w[0]), y.getPixelForValue(w[1])));
      ctx.restore();
    },
    afterDraw(chart) {
      const y = chart.scales.y;
      const s = macdSignal[macdSignal.length - 1][1], m = macdLine[macdLine.length - 1][1];
      drawTag(chart.ctx, y.getPixelForValue(s), String(s), '#808080', '#111');
      drawTag(chart.ctx, y.getPixelForValue(m), String(m), '#808080', '#111');
      panelTop(chart);
    }
  }]
});

// alert marks + time axis
new Chart(document.getElementById('marks'), {
  type: 'bar',
  data: { datasets: [{
    type: 'bar', data: markBars.map(k => ({ x: k, y: [0.15, 0.85] })), grouped: false, barThickness: 3,
    backgroundColor: '#ffa500', borderWidth: 0
  }] },
  options: Object.assign({}, baseOptions, {
    scales: {
      x: {
        type: 'linear', min: X_MIN, max: X_MAX, offset: false, position: 'bottom',
        afterBuildTicks: s => { s.ticks = tickBars.map(v => ({ value: v })); },
        afterFit: s => { s.height = 57; s.paddingLeft = 0; s.paddingRight = 0; },
        ticks: { autoSkip: false, maxRotation: 0, minRotation: 0, padding: 4, color: '#000', font: { size: 12 },
          callback: (v, i) => timeLabels[i] },
        grid: { display: true, offset: false, drawOnChartArea: false, drawTicks: true, tickLength: 4, color: '#000' },
        border: { display: true, color: '#8c8c8c' }
      },
      y: {
        type: 'linear', position: 'right', min: 0, max: 1, afterFit: fixAxis,
        afterBuildTicks: s => { s.ticks = []; },
        ticks: { display: false },
        grid: { display: false },
        border: { display: true, color: '#000' }
      }
    }
  }),
  plugins: [{
    id: 'markExtras',
    afterDatasetsDraw(chart) {
      const ctx = chart.ctx;
      ctx.save();
      ctx.font = '12px ' + FONT;
      ctx.fillStyle = '#000';
      ctx.textBaseline = 'middle';
      ctx.fillText('\u00a9 2018 NinjaTrader, LLC', 5, 11);
      ctx.restore();
    },
    afterDraw(chart) {
      drawTag(chart.ctx, chart.scales.y.getPixelForValue(0.1), '0', '#ffa500', '#000');
      panelTop(chart);
    }
  }]
});
</script>
</body>
</html>
